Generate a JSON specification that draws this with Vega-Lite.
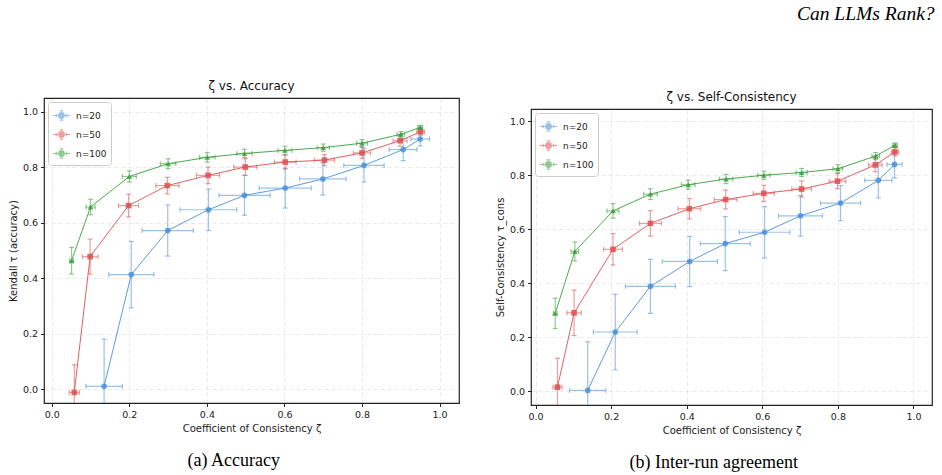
{
  "$schema": "https://vega.github.io/schema/vega-lite/v6.json",
  "padding": {"left": 7, "top": 3, "right": 4, "bottom": 0},
  "background": "white",
  "title": {"text": "Can LLMs Rank?", "anchor": "end", "frame": "bounds", "font": "Liberation Serif", "fontStyle": "italic", "fontWeight": "normal", "fontSize": 19.5, "color": "#000", "offset": 53, "dx": 2},
  "datasets": {
    "acc": [
      {"n": "n=20", "x": 0.135, "y": 0.01, "xerr": 0.047, "yerr": 0.17},
      {"n": "n=20", "x": 0.205, "y": 0.413, "xerr": 0.058, "yerr": 0.12},
      {"n": "n=20", "x": 0.299, "y": 0.572, "xerr": 0.066, "yerr": 0.092},
      {"n": "n=20", "x": 0.404, "y": 0.647, "xerr": 0.073, "yerr": 0.075},
      {"n": "n=20", "x": 0.497, "y": 0.699, "xerr": 0.066, "yerr": 0.072},
      {"n": "n=20", "x": 0.602, "y": 0.725, "xerr": 0.067, "yerr": 0.072},
      {"n": "n=20", "x": 0.699, "y": 0.758, "xerr": 0.06, "yerr": 0.058},
      {"n": "n=20", "x": 0.805, "y": 0.807, "xerr": 0.052, "yerr": 0.06},
      {"n": "n=20", "x": 0.906, "y": 0.864, "xerr": 0.036, "yerr": 0.04},
      {"n": "n=20", "x": 0.95, "y": 0.902, "xerr": 0.024, "yerr": 0.025},
      {"n": "n=50", "x": 0.058, "y": -0.012, "xerr": 0.013, "yerr": 0.1},
      {"n": "n=50", "x": 0.099, "y": 0.478, "xerr": 0.02, "yerr": 0.063},
      {"n": "n=50", "x": 0.198, "y": 0.662, "xerr": 0.026, "yerr": 0.041},
      {"n": "n=50", "x": 0.298, "y": 0.734, "xerr": 0.03, "yerr": 0.03},
      {"n": "n=50", "x": 0.403, "y": 0.771, "xerr": 0.03, "yerr": 0.03},
      {"n": "n=50", "x": 0.499, "y": 0.801, "xerr": 0.03, "yerr": 0.03},
      {"n": "n=50", "x": 0.602, "y": 0.819, "xerr": 0.028, "yerr": 0.025},
      {"n": "n=50", "x": 0.703, "y": 0.826, "xerr": 0.026, "yerr": 0.02},
      {"n": "n=50", "x": 0.8, "y": 0.852, "xerr": 0.022, "yerr": 0.02},
      {"n": "n=50", "x": 0.898, "y": 0.896, "xerr": 0.018, "yerr": 0.02},
      {"n": "n=50", "x": 0.951, "y": 0.928, "xerr": 0.01, "yerr": 0.012},
      {"n": "n=100", "x": 0.051, "y": 0.463, "xerr": 0.005, "yerr": 0.048},
      {"n": "n=100", "x": 0.1, "y": 0.657, "xerr": 0.012, "yerr": 0.028},
      {"n": "n=100", "x": 0.2, "y": 0.767, "xerr": 0.018, "yerr": 0.02},
      {"n": "n=100", "x": 0.3, "y": 0.813, "xerr": 0.02, "yerr": 0.018},
      {"n": "n=100", "x": 0.401, "y": 0.836, "xerr": 0.02, "yerr": 0.017},
      {"n": "n=100", "x": 0.497, "y": 0.85, "xerr": 0.02, "yerr": 0.015},
      {"n": "n=100", "x": 0.601, "y": 0.861, "xerr": 0.018, "yerr": 0.015},
      {"n": "n=100", "x": 0.7, "y": 0.871, "xerr": 0.016, "yerr": 0.013},
      {"n": "n=100", "x": 0.8, "y": 0.887, "xerr": 0.014, "yerr": 0.013},
      {"n": "n=100", "x": 0.9, "y": 0.919, "xerr": 0.01, "yerr": 0.01},
      {"n": "n=100", "x": 0.95, "y": 0.944, "xerr": 0.006, "yerr": 0.007}
    ],
    "cons": [
      {"n": "n=20", "x": 0.138, "y": 0.004, "xerr": 0.048, "yerr": 0.18},
      {"n": "n=20", "x": 0.211, "y": 0.22, "xerr": 0.058, "yerr": 0.14},
      {"n": "n=20", "x": 0.304, "y": 0.389, "xerr": 0.066, "yerr": 0.1},
      {"n": "n=20", "x": 0.408, "y": 0.481, "xerr": 0.073, "yerr": 0.093},
      {"n": "n=20", "x": 0.502, "y": 0.547, "xerr": 0.066, "yerr": 0.1},
      {"n": "n=20", "x": 0.606, "y": 0.589, "xerr": 0.067, "yerr": 0.095},
      {"n": "n=20", "x": 0.701, "y": 0.65, "xerr": 0.058, "yerr": 0.075},
      {"n": "n=20", "x": 0.807, "y": 0.697, "xerr": 0.053, "yerr": 0.065},
      {"n": "n=20", "x": 0.907, "y": 0.781, "xerr": 0.036, "yerr": 0.065},
      {"n": "n=20", "x": 0.95, "y": 0.84, "xerr": 0.02, "yerr": 0.05},
      {"n": "n=50", "x": 0.058, "y": 0.016, "xerr": 0.012, "yerr": 0.107},
      {"n": "n=50", "x": 0.102, "y": 0.291, "xerr": 0.019, "yerr": 0.084},
      {"n": "n=50", "x": 0.205, "y": 0.526, "xerr": 0.025, "yerr": 0.058},
      {"n": "n=50", "x": 0.304, "y": 0.622, "xerr": 0.029, "yerr": 0.047},
      {"n": "n=50", "x": 0.407, "y": 0.676, "xerr": 0.03, "yerr": 0.038},
      {"n": "n=50", "x": 0.503, "y": 0.71, "xerr": 0.03, "yerr": 0.035},
      {"n": "n=50", "x": 0.604, "y": 0.733, "xerr": 0.028, "yerr": 0.03},
      {"n": "n=50", "x": 0.704, "y": 0.749, "xerr": 0.026, "yerr": 0.03},
      {"n": "n=50", "x": 0.799, "y": 0.778, "xerr": 0.022, "yerr": 0.028},
      {"n": "n=50", "x": 0.899, "y": 0.838, "xerr": 0.018, "yerr": 0.025},
      {"n": "n=50", "x": 0.951, "y": 0.886, "xerr": 0.01, "yerr": 0.015},
      {"n": "n=100", "x": 0.052, "y": 0.289, "xerr": 0.005, "yerr": 0.056},
      {"n": "n=100", "x": 0.104, "y": 0.518, "xerr": 0.01, "yerr": 0.035},
      {"n": "n=100", "x": 0.205, "y": 0.668, "xerr": 0.016, "yerr": 0.027},
      {"n": "n=100", "x": 0.304, "y": 0.73, "xerr": 0.018, "yerr": 0.02},
      {"n": "n=100", "x": 0.404, "y": 0.765, "xerr": 0.018, "yerr": 0.017},
      {"n": "n=100", "x": 0.504, "y": 0.786, "xerr": 0.018, "yerr": 0.017},
      {"n": "n=100", "x": 0.604, "y": 0.8, "xerr": 0.016, "yerr": 0.015},
      {"n": "n=100", "x": 0.704, "y": 0.81, "xerr": 0.015, "yerr": 0.015},
      {"n": "n=100", "x": 0.8, "y": 0.824, "xerr": 0.013, "yerr": 0.015},
      {"n": "n=100", "x": 0.9, "y": 0.871, "xerr": 0.01, "yerr": 0.013},
      {"n": "n=100", "x": 0.951, "y": 0.911, "xerr": 0.006, "yerr": 0.008}
    ]
  },
  "spacing": 34,
  "resolve": {"scale": {"color": "independent"}, "legend": {"color": "independent"}},
  "hconcat": [
    {
      "title": {"text": "(a) Accuracy", "orient": "bottom", "frame": "bounds", "anchor": "middle", "font": "Liberation Serif", "fontSize": 18, "fontWeight": "normal", "color": "#000", "offset": 18},
      "resolve": {"scale": {"color": "independent"}, "legend": {"color": "independent"}},
      "spacing": 1,
      "vconcat": [
        {"width": 415, "height": 1, "view": {"stroke": null}, "data": {"values": []}, "mark": "rule", "encoding": {}},
        {
          "width": 415,
          "height": 305,
          "title": {"text": "ζ vs. Accuracy"},
          "data": {"name": "acc"},
          "layer": [
            {
              "mark": {"type": "errorbar", "ticks": true, "size": 5, "thickness": 1.2, "opacity": 0.55, "clip": true},
              "encoding": {
                "x": {"field": "x", "type": "quantitative", "title": "Coefficient of Consistency ζ", "scale": {"domain": [-0.02, 1.05], "nice": false, "zero": false}, "axis": {"values": [0, 0.2, 0.4, 0.6, 0.8, 1.0], "format": ".1f"}},
                "xError": {"field": "xerr"},
                "y": {"field": "y", "type": "quantitative", "title": "Kendall τ (accuracy)", "scale": {"domain": [-0.05, 1.05], "nice": false, "zero": false}, "axis": {"values": [0, 0.2, 0.4, 0.6, 0.8, 1.0], "format": ".1f"}},
                "color": {"field": "n", "type": "nominal", "scale": {"domain": ["n=20", "n=50", "n=100"], "range": ["#4a90d9", "#de4f4f", "#3a9f3a"]}, "legend": {"title": null, "symbolType": "M-1,0L1,0M0,-0.55L0,0.55M-0.2,-0.55L0.2,-0.55M-0.2,0.55L0.2,0.55M-0.6,-0.2L-0.6,0.2M0.6,-0.2L0.6,0.2M0.33,0A0.33,0.33,0,1,1,-0.33,0A0.33,0.33,0,1,1,0.33,0Z", "encode": {"symbols": {"stroke": {"value": {"expr": "datum.value === 'n=20' ? '#4a90d9' : datum.value === 'n=50' ? '#de4f4f' : '#3a9f3a'"}}, "strokeWidth": {"value": 1.1}}}}}
              }
            },
            {
              "mark": {"type": "errorbar", "ticks": true, "size": 5, "thickness": 1.2, "opacity": 0.55, "clip": true},
              "encoding": {
                "x": {"field": "x", "type": "quantitative", "title": "Coefficient of Consistency ζ"},
                "y": {"field": "y", "type": "quantitative", "title": "Kendall τ (accuracy)"},
                "yError": {"field": "yerr"},
                "color": {"field": "n", "type": "nominal", "legend": {"title": null, "symbolType": "M-1,0L1,0M0,-0.55L0,0.55M-0.2,-0.55L0.2,-0.55M-0.2,0.55L0.2,0.55M-0.6,-0.2L-0.6,0.2M0.6,-0.2L0.6,0.2M0.33,0A0.33,0.33,0,1,1,-0.33,0A0.33,0.33,0,1,1,0.33,0Z", "encode": {"symbols": {"stroke": {"value": {"expr": "datum.value === 'n=20' ? '#4a90d9' : datum.value === 'n=50' ? '#de4f4f' : '#3a9f3a'"}}, "strokeWidth": {"value": 1.1}}}}}
              }
            },
            {
              "mark": {"type": "line", "strokeWidth": 1, "opacity": 0.9, "clip": true},
              "encoding": {
                "x": {"field": "x", "type": "quantitative", "title": "Coefficient of Consistency ζ"},
                "y": {"field": "y", "type": "quantitative", "title": "Kendall τ (accuracy)"},
                "color": {"field": "n", "type": "nominal", "legend": {"title": null, "symbolType": "M-1,0L1,0M0,-0.55L0,0.55M-0.2,-0.55L0.2,-0.55M-0.2,0.55L0.2,0.55M-0.6,-0.2L-0.6,0.2M0.6,-0.2L0.6,0.2M0.33,0A0.33,0.33,0,1,1,-0.33,0A0.33,0.33,0,1,1,0.33,0Z", "encode": {"symbols": {"stroke": {"value": {"expr": "datum.value === 'n=20' ? '#4a90d9' : datum.value === 'n=50' ? '#de4f4f' : '#3a9f3a'"}}, "strokeWidth": {"value": 1.1}}}}}
              }
            },
            {
              "transform": [{"filter": "datum.n === 'n=20'"}],
              "mark": {"type": "point", "shape": "circle", "filled": true, "size": 32, "opacity": 0.85, "clip": true},
              "encoding": {
                "x": {"field": "x", "type": "quantitative", "title": "Coefficient of Consistency ζ"},
                "y": {"field": "y", "type": "quantitative", "title": "Kendall τ (accuracy)"},
                "color": {"field": "n", "type": "nominal", "legend": {"title": null, "symbolType": "M-1,0L1,0M0,-0.55L0,0.55M-0.2,-0.55L0.2,-0.55M-0.2,0.55L0.2,0.55M-0.6,-0.2L-0.6,0.2M0.6,-0.2L0.6,0.2M0.33,0A0.33,0.33,0,1,1,-0.33,0A0.33,0.33,0,1,1,0.33,0Z", "encode": {"symbols": {"stroke": {"value": {"expr": "datum.value === 'n=20' ? '#4a90d9' : datum.value === 'n=50' ? '#de4f4f' : '#3a9f3a'"}}, "strokeWidth": {"value": 1.1}}}}}
              }
            },
            {
              "transform": [{"filter": "datum.n === 'n=50'"}],
              "mark": {"type": "point", "shape": "square", "filled": true, "size": 32, "opacity": 0.85, "clip": true},
              "encoding": {
                "x": {"field": "x", "type": "quantitative", "title": "Coefficient of Consistency ζ"},
                "y": {"field": "y", "type": "quantitative", "title": "Kendall τ (accuracy)"},
                "color": {"field": "n", "type": "nominal", "legend": {"title": null, "symbolType": "M-1,0L1,0M0,-0.55L0,0.55M-0.2,-0.55L0.2,-0.55M-0.2,0.55L0.2,0.55M-0.6,-0.2L-0.6,0.2M0.6,-0.2L0.6,0.2M0.33,0A0.33,0.33,0,1,1,-0.33,0A0.33,0.33,0,1,1,0.33,0Z", "encode": {"symbols": {"stroke": {"value": {"expr": "datum.value === 'n=20' ? '#4a90d9' : datum.value === 'n=50' ? '#de4f4f' : '#3a9f3a'"}}, "strokeWidth": {"value": 1.1}}}}}
              }
            },
            {
              "transform": [{"filter": "datum.n === 'n=100'"}],
              "mark": {"type": "point", "shape": "triangle-up", "filled": true, "size": 32, "opacity": 0.85, "clip": true},
              "encoding": {
                "x": {"field": "x", "type": "quantitative", "title": "Coefficient of Consistency ζ"},
                "y": {"field": "y", "type": "quantitative", "title": "Kendall τ (accuracy)"},
                "color": {"field": "n", "type": "nominal", "legend": {"title": null, "symbolType": "M-1,0L1,0M0,-0.55L0,0.55M-0.2,-0.55L0.2,-0.55M-0.2,0.55L0.2,0.55M-0.6,-0.2L-0.6,0.2M0.6,-0.2L0.6,0.2M0.33,0A0.33,0.33,0,1,1,-0.33,0A0.33,0.33,0,1,1,0.33,0Z", "encode": {"symbols": {"stroke": {"value": {"expr": "datum.value === 'n=20' ? '#4a90d9' : datum.value === 'n=50' ? '#de4f4f' : '#3a9f3a'"}}, "strokeWidth": {"value": 1.1}}}}}
              }
            }
          ]
        }
      ]
    },
    {
      "title": {"text": "(b) Inter-run agreement", "orient": "bottom", "frame": "bounds", "anchor": "middle", "font": "Liberation Serif", "fontSize": 18, "fontWeight": "normal", "color": "#000", "offset": 18},
      "resolve": {"scale": {"color": "independent"}, "legend": {"color": "independent"}},
      "spacing": 12,
      "vconcat": [
        {"width": 401, "height": 1, "view": {"stroke": null}, "data": {"values": []}, "mark": "rule", "encoding": {}},
        {
          "width": 401,
          "height": 296,
          "title": {"text": "ζ vs. Self-Consistency"},
          "data": {"name": "cons"},
          "layer": [
            {
              "mark": {"type": "errorbar", "ticks": true, "size": 5, "thickness": 1.2, "opacity": 0.55, "clip": true},
              "encoding": {
                "x": {"field": "x", "type": "quantitative", "title": "Coefficient of Consistency ζ", "scale": {"domain": [-0.012, 1.049], "nice": false, "zero": false}, "axis": {"values": [0, 0.2, 0.4, 0.6, 0.8, 1.0], "format": ".1f"}},
                "xError": {"field": "xerr"},
                "y": {"field": "y", "type": "quantitative", "title": "Self-Consistency τ_cons", "scale": {"domain": [-0.05, 1.045], "nice": false, "zero": false}, "axis": {"values": [0, 0.2, 0.4, 0.6, 0.8, 1.0], "format": ".1f"}},
                "color": {"field": "n", "type": "nominal", "scale": {"domain": ["n=20", "n=50", "n=100"], "range": ["#4a90d9", "#de4f4f", "#3a9f3a"]}, "legend": {"title": null, "symbolType": "M-1,0L1,0M0,-0.55L0,0.55M-0.2,-0.55L0.2,-0.55M-0.2,0.55L0.2,0.55M-0.6,-0.2L-0.6,0.2M0.6,-0.2L0.6,0.2M0.33,0A0.33,0.33,0,1,1,-0.33,0A0.33,0.33,0,1,1,0.33,0Z", "encode": {"symbols": {"stroke": {"value": {"expr": "datum.value === 'n=20' ? '#4a90d9' : datum.value === 'n=50' ? '#de4f4f' : '#3a9f3a'"}}, "strokeWidth": {"value": 1.1}}}}}
              }
            },
            {
              "mark": {"type": "errorbar", "ticks": true, "size": 5, "thickness": 1.2, "opacity": 0.55, "clip": true},
              "encoding": {
                "x": {"field": "x", "type": "quantitative", "title": "Coefficient of Consistency ζ"},
                "y": {"field": "y", "type": "quantitative", "title": "Self-Consistency τ_cons"},
                "yError": {"field": "yerr"},
                "color": {"field": "n", "type": "nominal", "legend": {"title": null, "symbolType": "M-1,0L1,0M0,-0.55L0,0.55M-0.2,-0.55L0.2,-0.55M-0.2,0.55L0.2,0.55M-0.6,-0.2L-0.6,0.2M0.6,-0.2L0.6,0.2M0.33,0A0.33,0.33,0,1,1,-0.33,0A0.33,0.33,0,1,1,0.33,0Z", "encode": {"symbols": {"stroke": {"value": {"expr": "datum.value === 'n=20' ? '#4a90d9' : datum.value === 'n=50' ? '#de4f4f' : '#3a9f3a'"}}, "strokeWidth": {"value": 1.1}}}}}
              }
            },
            {
              "mark": {"type": "line", "strokeWidth": 1, "opacity": 0.9, "clip": true},
              "encoding": {
                "x": {"field": "x", "type": "quantitative", "title": "Coefficient of Consistency ζ"},
                "y": {"field": "y", "type": "quantitative", "title": "Self-Consistency τ_cons"},
                "color": {"field": "n", "type": "nominal", "legend": {"title": null, "symbolType": "M-1,0L1,0M0,-0.55L0,0.55M-0.2,-0.55L0.2,-0.55M-0.2,0.55L0.2,0.55M-0.6,-0.2L-0.6,0.2M0.6,-0.2L0.6,0.2M0.33,0A0.33,0.33,0,1,1,-0.33,0A0.33,0.33,0,1,1,0.33,0Z", "encode": {"symbols": {"stroke": {"value": {"expr": "datum.value === 'n=20' ? '#4a90d9' : datum.value === 'n=50' ? '#de4f4f' : '#3a9f3a'"}}, "strokeWidth": {"value": 1.1}}}}}
              }
            },
            {
              "transform": [{"filter": "datum.n === 'n=20'"}],
              "mark": {"type": "point", "shape": "circle", "filled": true, "size": 32, "opacity": 0.85, "clip": true},
              "encoding": {
                "x": {"field": "x", "type": "quantitative", "title": "Coefficient of Consistency ζ"},
                "y": {"field": "y", "type": "quantitative", "title": "Self-Consistency τ_cons"},
                "color": {"field": "n", "type": "nominal", "legend": {"title": null, "symbolType": "M-1,0L1,0M0,-0.55L0,0.55M-0.2,-0.55L0.2,-0.55M-0.2,0.55L0.2,0.55M-0.6,-0.2L-0.6,0.2M0.6,-0.2L0.6,0.2M0.33,0A0.33,0.33,0,1,1,-0.33,0A0.33,0.33,0,1,1,0.33,0Z", "encode": {"symbols": {"stroke": {"value": {"expr": "datum.value === 'n=20' ? '#4a90d9' : datum.value === 'n=50' ? '#de4f4f' : '#3a9f3a'"}}, "strokeWidth": {"value": 1.1}}}}}
              }
            },
            {
              "transform": [{"filter": "datum.n === 'n=50'"}],
              "mark": {"type": "point", "shape": "square", "filled": true, "size": 32, "opacity": 0.85, "clip": true},
              "encoding": {
                "x": {"field": "x", "type": "quantitative", "title": "Coefficient of Consistency ζ"},
                "y": {"field": "y", "type": "quantitative", "title": "Self-Consistency τ_cons"},
                "color": {"field": "n", "type": "nominal", "legend": {"title": null, "symbolType": "M-1,0L1,0M0,-0.55L0,0.55M-0.2,-0.55L0.2,-0.55M-0.2,0.55L0.2,0.55M-0.6,-0.2L-0.6,0.2M0.6,-0.2L0.6,0.2M0.33,0A0.33,0.33,0,1,1,-0.33,0A0.33,0.33,0,1,1,0.33,0Z", "encode": {"symbols": {"stroke": {"value": {"expr": "datum.value === 'n=20' ? '#4a90d9' : datum.value === 'n=50' ? '#de4f4f' : '#3a9f3a'"}}, "strokeWidth": {"value": 1.1}}}}}
              }
            },
            {
              "transform": [{"filter": "datum.n === 'n=100'"}],
              "mark": {"type": "point", "shape": "triangle-up", "filled": true, "size": 32, "opacity": 0.85, "clip": true},
              "encoding": {
                "x": {"field": "x", "type": "quantitative", "title": "Coefficient of Consistency ζ"},
                "y": {"field": "y", "type": "quantitative", "title": "Self-Consistency τ_cons"},
                "color": {"field": "n", "type": "nominal", "legend": {"title": null, "symbolType": "M-1,0L1,0M0,-0.55L0,0.55M-0.2,-0.55L0.2,-0.55M-0.2,0.55L0.2,0.55M-0.6,-0.2L-0.6,0.2M0.6,-0.2L0.6,0.2M0.33,0A0.33,0.33,0,1,1,-0.33,0A0.33,0.33,0,1,1,0.33,0Z", "encode": {"symbols": {"stroke": {"value": {"expr": "datum.value === 'n=20' ? '#4a90d9' : datum.value === 'n=50' ? '#de4f4f' : '#3a9f3a'"}}, "strokeWidth": {"value": 1.1}}}}}
              }
            }
          ]
        }
      ]
    }
  ],
  "config": {
    "font": "DejaVu Sans",
    "view": {"stroke": "#222", "strokeWidth": 1.2},
    "title": {"font": "DejaVu Sans", "fontSize": 12, "fontWeight": "normal", "color": "#111", "offset": 5},
    "axis": {"labelFont": "DejaVu Sans", "titleFont": "DejaVu Sans", "labelFontSize": 9.5, "titleFontSize": 10, "titleFontWeight": "normal", "labelColor": "#222", "titleColor": "#222", "tickColor": "#222", "tickSize": 3.5, "domain": false, "gridColor": "#b0b0b0", "gridOpacity": 0.35, "gridDash": [4, 3], "gridWidth": 0.8, "labelPadding": 3, "titlePadding": 4},
    "legend": {"orient": "top-left", "offset": 4, "fillColor": "white", "strokeColor": "#cccccc", "cornerRadius": 3, "padding": 4, "labelFont": "DejaVu Sans", "labelFontSize": 9, "labelColor": "#222", "symbolSize": 300, "symbolStrokeWidth": 1.1, "rowPadding": 2, "labelOffset": 5}
  }
}
